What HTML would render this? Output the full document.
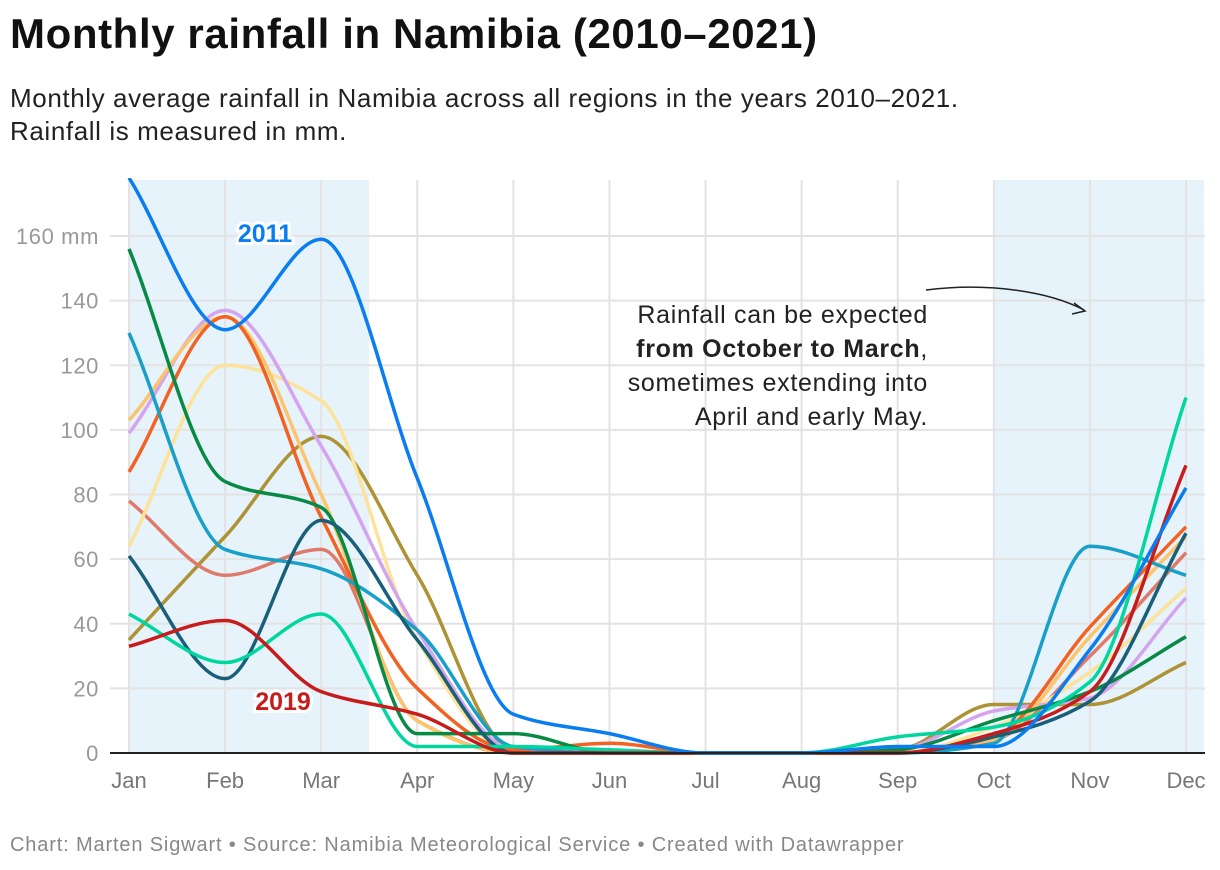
<!DOCTYPE html>
<html><head><meta charset="utf-8"><style>
body{margin:0;background:#fff;font-family:"Liberation Sans",sans-serif;}
#wrap{position:relative;width:1220px;height:870px;overflow:hidden;}
h1{position:absolute;left:10px;top:10px;margin:0;font-size:42px;font-weight:bold;color:#111;letter-spacing:0.6px}
.sub{position:absolute;left:10px;top:82px;font-size:26px;color:#222;line-height:33px;letter-spacing:0.6px}
.foot{position:absolute;left:10px;top:834px;font-size:20px;color:#888;letter-spacing:0.85px}
svg{position:absolute;left:0;top:0}
</style></head><body><div id="wrap">
<svg id="chart" width="1220" height="870"></svg>
<h1>Monthly rainfall in Namibia (2010–2021)</h1>
<div class="sub">Monthly average rainfall in Namibia across all regions in the years 2010–2021.<br>Rainfall is measured in mm.</div>
<div class="foot">Chart: Marten Sigwart • Source: Namibia Meteorological Service • Created with Datawrapper</div>
</div>
<script>
const months=["Jan","Feb","Mar","Apr","May","Jun","Jul","Aug","Sep","Oct","Nov","Dec"];
const yTicks=[0,20,40,60,80,100,120,140,160];
const sOlive=[35,67,98,55,1,0,0,0,1,15,15,28];
const sSalmon=[78,55,63,10,0,0,0,0,0,4,30,62];
const sPale=[64,120,109,35,0,0,0,0,0,8,25,51];
const sPurple=[99,137,95,38,1,0,0,0,1,13,17,48];
const sPeach=[103,135,80,10,0,0,0,0,0,4,36,67];
const sOrange=[87,135,73,20,1,3,0,0,0,5,39,70];
const sCyan=[130,63,57,38,2,0,0,0,0,3,64,55];
const sGreen=[156,84,76,6,6,0,0,0,1,10,19,36];
const sTeal=[61,23,72,35,0,0,0,0,0,5,16,68];
const sMint=[43,28,43,2,2,1,0,0,5,8,22,110];
const s2019=[33,41,19,12,0,0,0,0,0,6,19,89];
const s2011=[178,131,159,85,12,6,0,0,2,2,32,82];
const series=[[sOlive,"#ad9336","olive"],[sSalmon,"#df7a6a","salmon"],[sPale,"#fde29a","pale-yellow"],[sPurple,"#d4a4ee","purple"],[sPeach,"#fcc46b","peach"],[sOrange,"#f26222","orange"],[sCyan,"#18a0c8","cyan"],[sGreen,"#078a45","green"],[sTeal,"#1a5f7a","dark-teal"],[sMint,"#00d6a0","mint"],[s2019,"#c71c1c","2019"],[s2011,"#0a7ef0","2011"]];
const NS="http://www.w3.org/2000/svg";
const svg=document.getElementById("chart");
const x0=129,x1=1186,y0=753,yPer=(753-236)/160,yTop=180;
const X=i=>x0+i*(x1-x0)/11;
const Y=v=>y0-v*yPer;
function mk(t,a,p){const e=document.createElementNS(NS,t);for(const k in a)e.setAttribute(k,a[k]);(p||svg).appendChild(e);return e;}
let sh1=mk("rect",{x:X(0),y:yTop,width:X(2.5)-X(0),height:y0-yTop,fill:"#e6f3fa"});


let sh2=mk("rect",{x:X(9),y:yTop,width:1204-X(9),height:y0-yTop,fill:"#e6f3fa"});


yTicks.forEach(v=>{
 let g=mk("line",{x1:110,x2:1205,y1:Y(v),y2:Y(v),stroke:"#e3e3e3","stroke-width":2});
 
 
 let t=mk("text",{x:99,y:Y(v)+8,"text-anchor":"end","font-size":22,fill:"#999","letter-spacing":"0.6"});
 t.textContent=v==160?"160 mm":v;
 
 
});
months.forEach((m,i)=>{
 let g=mk("line",{x1:X(i),x2:X(i),y1:yTop,y2:y0,stroke:"#e3e3e3","stroke-width":2});
 
 
 let t=mk("text",{x:X(i),y:788,"text-anchor":"middle","font-size":22,fill:"#777"});
 t.textContent=m;
 
 
});
function monoPath(vals){
 const n=vals.length,xs=vals.map((_,i)=>X(i)),ys=vals.map(Y);
 const d=[],m=[];
 for(let i=0;i<n-1;i++)d.push((ys[i+1]-ys[i])/(xs[i+1]-xs[i]));
 m[0]=d[0];m[n-1]=d[n-2];
 for(let i=1;i<n-1;i++){if(d[i-1]*d[i]<=0)m[i]=0;else m[i]=2/(1/d[i-1]+1/d[i]);}
 let p="M"+xs[0]+","+ys[0];
 for(let i=0;i<n-1;i++){const h=(xs[i+1]-xs[i])/3;p+=" C"+(xs[i]+h)+","+(ys[i]+m[i]*h)+" "+(xs[i+1]-h)+","+(ys[i+1]-m[i+1]*h)+" "+xs[i+1]+","+ys[i+1];}
 return p;
}
const clip=mk("clipPath",{id:"cp"});mk("rect",{x:100,y:yTop-2,width:1110,height:y0-yTop+4},clip);
series.forEach(([vals,col,name])=>{
 let p=mk("path",{d:monoPath(vals),fill:"none",stroke:col,"stroke-width":3.5,"stroke-linejoin":"round","clip-path":"url(#cp)"});
 
 
});
let base=mk("line",{x1:110,x2:1205,y1:y0,y2:y0,stroke:"#222","stroke-width":2});


function lbl(txt,x,y,col,name){
 let t=mk("text",{x:x,y:y,"text-anchor":"middle","font-size":25,"font-weight":"bold",fill:col,stroke:"#fff","stroke-width":6,"paint-order":"stroke"});
 t.textContent=txt;
 
 
}
lbl("2011",265,242,"#0a7ef0","label-2011");
lbl("2019",283,710,"#c71c1c","label-2019");
const ann=[["Rainfall can be expected",false],["from October to March",true],["sometimes extending into",false],["April and early May.",false]];
ann.forEach((a,i)=>{
 let t=mk("text",{x:928,y:323+i*34,"text-anchor":"end","font-size":25,fill:"#222","letter-spacing":"0.7"});
 if(a[1]){t.innerHTML='<tspan font-weight="bold">'+a[0]+'</tspan>,';}else t.textContent=a[0];
 
 
});
let ar=mk("path",{d:"M926,290 C990,282 1050,292 1084,310",fill:"none",stroke:"#222","stroke-width":1.5});


let ah=mk("path",{d:"M1074,303 L1085,311 L1072,314",fill:"none",stroke:"#222","stroke-width":1.5});


</script></body></html>
